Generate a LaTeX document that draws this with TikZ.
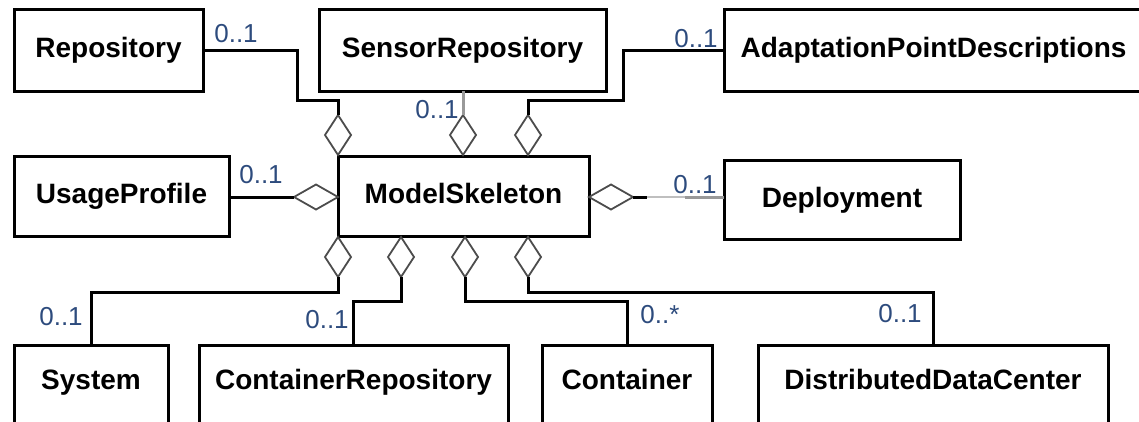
\documentclass[tikz,border=0pt]{standalone}
\usepackage{fontspec}
\setmainfont{Liberation Sans}
\usetikzlibrary{shapes.geometric}
\definecolor{multc}{RGB}{45,75,125}
\begin{document}
\begin{tikzpicture}[x=1pt,y=-1pt,
  cls/.style={draw=black, line width=3pt, fill=white, inner sep=0pt, outer sep=0pt,
    font=\bfseries\fontsize{28}{32}\selectfont, text height=20pt, text depth=5pt},
  clsb/.style={cls, anchor=north, text height=44pt, text depth=40pt},
  mult/.style={font=\fontsize{26}{30}\selectfont, text=multc, inner sep=0pt, anchor=base},
  agg/.style={shape=diamond, draw=black!70, line width=1.8pt, fill=white, inner sep=0pt, outer sep=0pt},
  aggv/.style={agg, minimum width=26pt, minimum height=40pt},
  aggh/.style={agg, minimum width=44pt, minimum height=25pt},
  link/.style={line width=3pt, draw=black}]
\useasboundingbox (0,0) rectangle (1139,421);

% classes
\node[cls, minimum width=189pt, minimum height=82pt] (repo) at (108.5,50) {Repository};
\node[cls, minimum width=287pt, minimum height=82pt] (sensor) at (462.5,50) {SensorRepository};
\node[cls, minimum width=419pt, minimum height=82pt] (apd) at (933.5,50) {AdaptationPointDescriptions};
\node[cls, minimum width=215pt, minimum height=80pt] (usage) at (121.5,196) {UsageProfile};
\node[cls, minimum width=251pt, minimum height=80pt] (ms) at (463.5,196) {ModelSkeleton};
\node[cls, minimum width=236pt, minimum height=79pt] (dep) at (842,199.5) {Deployment};
\node[clsb, minimum width=154pt] (sys) at (91,345) {System};
\node[clsb, minimum width=309pt] (cr) at (353.5,345) {ContainerRepository};
\node[clsb, minimum width=170pt] (con) at (627,345) {Container};
\node[clsb, minimum width=350pt] (ddc) at (933,345) {DistributedDataCenter};

% aggregation diamonds on ModelSkeleton
\node[aggv] (dRepo) at (338,135) {};
\node[aggv] (dSensor) at (463,135) {};
\node[aggv] (dApd) at (528,135) {};
\node[aggv] (dSys) at (338,257) {};
\node[aggv] (dCR) at (401,257) {};
\node[aggv] (dCon) at (465,257) {};
\node[aggv] (dDDC) at (528,257) {};
\node[aggh] (dUsage) at (316,197) {};
\node[aggh] (dDep) at (611,197) {};

% connectors
\draw[link] (repo.east) -| (297,100) -| (dRepo.north);
\draw[link, draw=black!40] (dSensor.north |- sensor.south) -- (dSensor.north);
\draw[link] (apd.west) -| (623,100) -| (dApd.north);
\draw[link] (usage.east |- dUsage.west) -- (dUsage.west);
\coordinate (depA) at (647,197);
\coordinate (depB) at (685,197);
\draw[link] (dDep.east) -- (depA);
\draw[line width=2pt, draw=black!25] (depA) -- (depB);
\draw[link, draw=black!40] (depB) -- (dep.west |- depB);
\draw[link] (dSys.south) -- ++(0,15) -| (sys.north);
\draw[link] (dCR.south) -- ++(0,24) -| (cr.north);
\draw[link] (dCon.south) -- ++(0,24) -| (con.north);
\draw[link] (dDDC.south) -- ++(0,15) -| (ddc.north);

% multiplicities
\node[mult] (mRepo) at (236,42) {0..1};
\node[mult] (mSensor) at (437,118) {0..1};
\node[mult] (mApd) at (696,47) {0..1};
\node[mult] (mUsage) at (261,183) {0..1};
\node[mult] (mDep) at (695,193) {0..1};
\node[mult] (mSys) at (61,325) {0..1};
\node[mult] (mCR) at (327,328) {0..1};
\node[mult] (mCon) at (660,323) {0..*};
\node[mult] (mDDC) at (900,322) {0..1};
\end{tikzpicture}
\end{document}
